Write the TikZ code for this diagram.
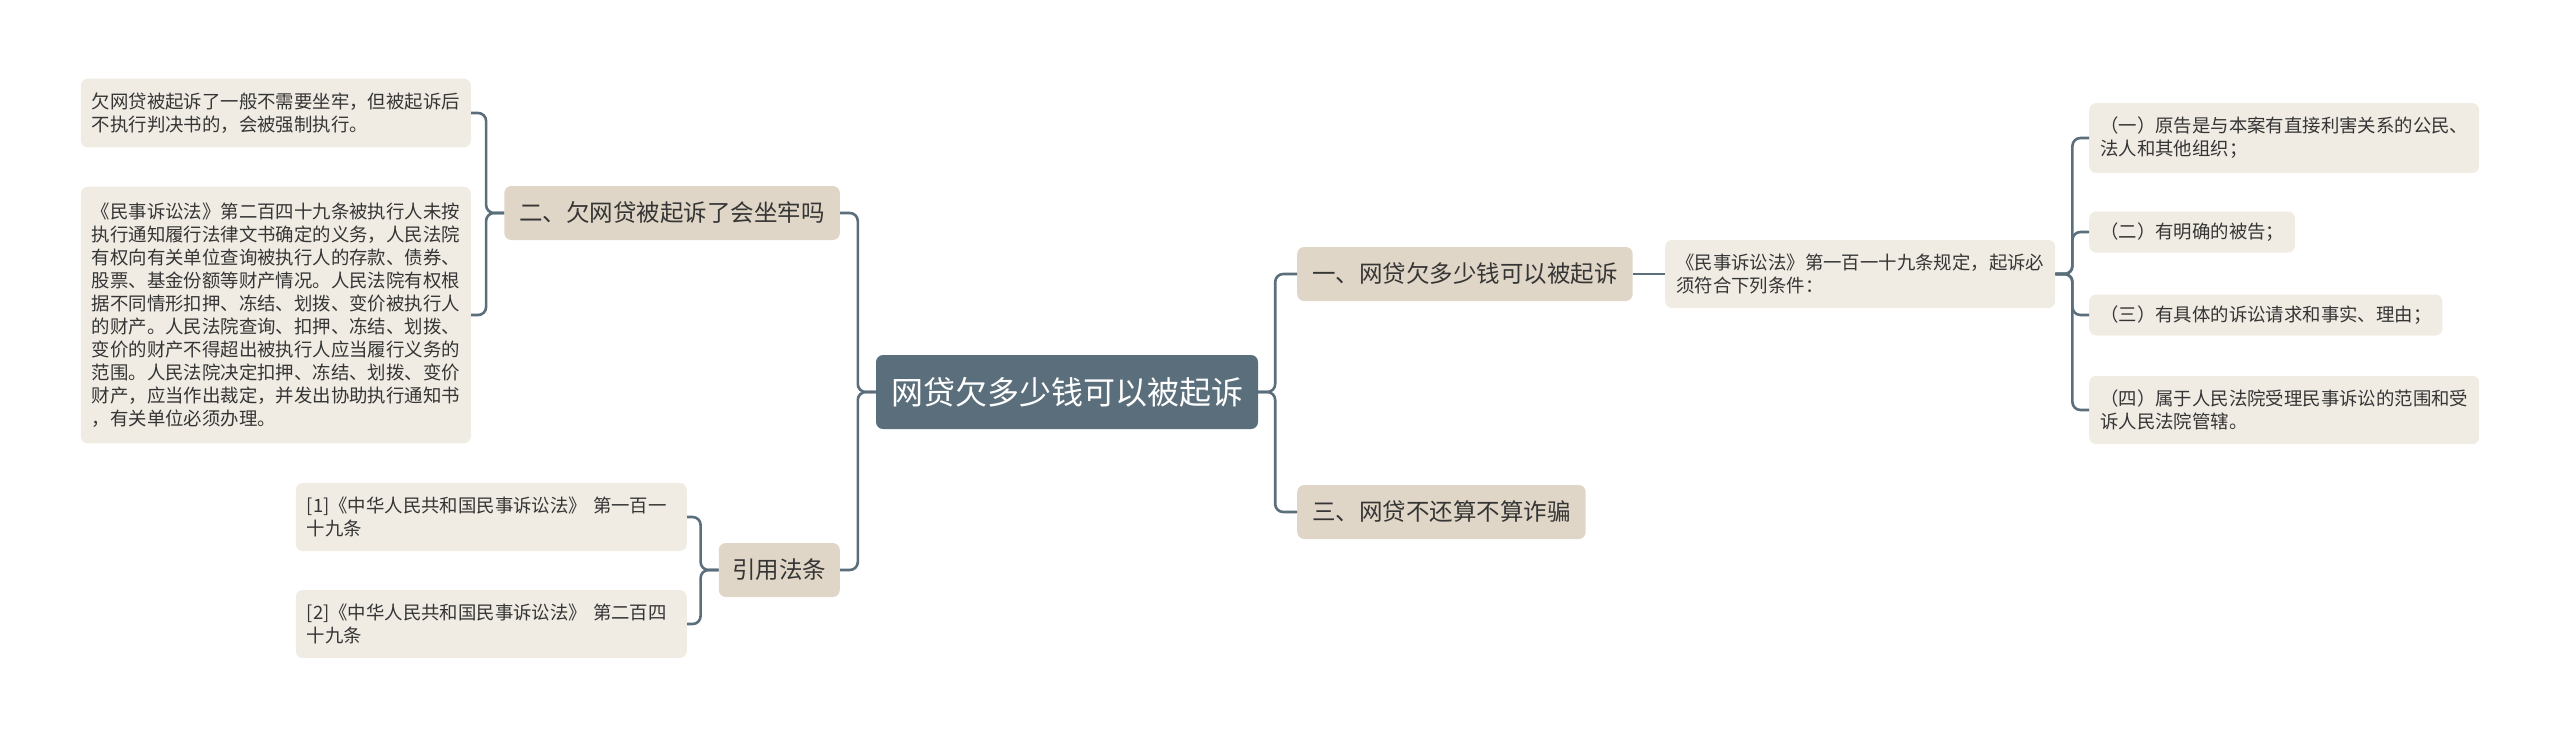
\documentclass[tikz,border=0pt]{standalone}
\usepackage{fontspec}
\setmainfont{Noto Sans CJK SC}
\definecolor{rootfill}{HTML}{5B6E7B}
\definecolor{mainfill}{HTML}{E0D6C7}
\definecolor{leaffill}{HTML}{F0ECE4}
\definecolor{linecol}{HTML}{5B6E7B}
\definecolor{textcol}{HTML}{353535}
\begin{document}
\begin{tikzpicture}[x=1pt,y=-1pt,
	rootbox/.style={fill=rootfill,text=white,rounded corners=7pt,inner xsep=15pt,inner ysep=0pt,minimum height=74pt,font=\fontsize{32}{38}\selectfont},
	mainbox/.style={fill=mainfill,text=textcol,rounded corners=7pt,inner xsep=15pt,inner ysep=0pt,minimum height=54pt,font=\fontsize{23.5}{28}\selectfont},
	leafbox/.style={fill=leaffill,text=textcol,rounded corners=7pt,inner xsep=11pt,inner ysep=14pt,minimum height=41pt,align=left,font=\fontsize{18.4}{23}\selectfont},
	link/.style={draw=linecol,line width=2.6pt,rounded corners=8pt}]
	\useasboundingbox (0,0) rectangle (2560,737);
	
	%%% Узлы
	
	% Центр
	\node[rootbox] (root) at (1067,392) {网贷欠多少钱可以被起诉};
	
	% Левая ветвь
	\node[mainbox,anchor=east] (er) at (840,213) {二、欠网贷被起诉了会坐牢吗};
	\node[mainbox,anchor=east,inner xsep=13.5pt] (yin) at (840,570) {引用法条};
	
	\node[leafbox,anchor=east] (er1) at (471,113) {欠网贷被起诉了一般不需要坐牢，但被起诉后\\不执行判决书的，会被强制执行。};
	\node[leafbox,anchor=east,inner ysep=16pt] (er2) at (471,315) {《民事诉讼法》第二百四十九条被执行人未按\\执行通知履行法律文书确定的义务，人民法院\\有权向有关单位查询被执行人的存款、债券、\\股票、基金份额等财产情况。人民法院有权根\\据不同情形扣押、冻结、划拨、变价被执行人\\的财产。人民法院查询、扣押、冻结、划拨、\\变价的财产不得超出被执行人应当履行义务的\\范围。人民法院决定扣押、冻结、划拨、变价\\财产，应当作出裁定，并发出协助执行通知书\\，有关单位必须办理。};
	
	\node[leafbox,anchor=east,text width=369pt] (yin1) at (687,517) {[1]《中华人民共和国民事诉讼法》 第一百一\\十九条};
	\node[leafbox,anchor=east,text width=369pt] (yin2) at (687,624) {[2]《中华人民共和国民事诉讼法》 第二百四\\十九条};
	
	% Правая ветвь
	\node[mainbox,anchor=west] (yi) at (1297,274) {一、网贷欠多少钱可以被起诉};
	\node[mainbox,anchor=west] (san) at (1297,512) {三、网贷不还算不算诈骗};
	
	\node[leafbox,anchor=west] (law) at (1665,274) {《民事诉讼法》第一百一十九条规定，起诉必\\须符合下列条件：};
	
	\node[leafbox,anchor=west] (law1) at (2089,138) {（一）原告是与本案有直接利害关系的公民、\\法人和其他组织；};
	\node[leafbox,anchor=west,inner ysep=0pt] (law2) at (2089,232) {（二）有明确的被告；};
	\node[leafbox,anchor=west,inner ysep=0pt] (law3) at (2089,315) {（三）有具体的诉讼请求和事实、理由；};
	\node[leafbox,anchor=west] (law4) at (2089,410) {（四）属于人民法院受理民事诉讼的范围和受\\诉人民法院管辖。};
	
	%%% Связи
	
	\draw[link] (root.west) -- ++(-18,0) |- (er.east);
	\draw[link] (root.west) -- ++(-18,0) |- (yin.east);
	\draw[link] (root.east) -- ++(17,0) |- (yi.west);
	\draw[link] (root.east) -- ++(17,0) |- (san.west);
	
	\draw[link] (er.west) -- ++(-18,0) |- (er1.east);
	\draw[link] (er.west) -- ++(-18,0) |- (er2.east);
	\draw[link] (yin.west) -- ++(-18,0) |- (yin1.east);
	\draw[link] (yin.west) -- ++(-18,0) |- (yin2.east);
	
	\draw[link] (yi.east) -- (law.west);
	\draw[link] (law.east) -- ++(17,0) |- (law1.west);
	\draw[link] (law.east) -- ++(17,0) |- (law2.west);
	\draw[link] (law.east) -- ++(17,0) |- (law3.west);
	\draw[link] (law.east) -- ++(17,0) |- (law4.west);
\end{tikzpicture}
\end{document}
